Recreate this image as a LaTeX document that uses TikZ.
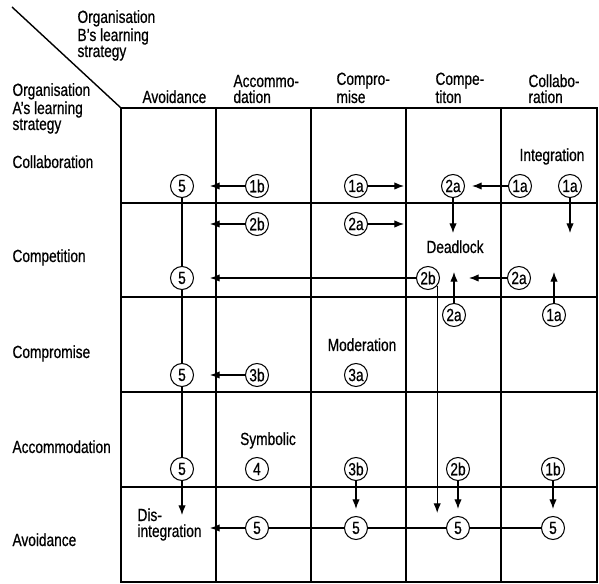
\documentclass[tikz,border=0pt]{standalone}
\usepackage{fontspec}
\setmainfont{Liberation Sans}[FakeStretch=0.78,FakeBold=0.6]
\usetikzlibrary{arrows.meta}

\begin{document}
\begin{tikzpicture}[x=0.02cm,y=-0.02cm,>={Latex[length=5.5pt,width=4.2pt]},semithick,
  font=\fontsize{10}{9.1}\selectfont,
  outcome/.style={circle,draw,minimum size=0.46cm,inner sep=0pt},
  strategy/.style={anchor=base west,inner sep=0pt,align=left},
  remark/.style={anchor=base,inner sep=0pt},
  gap/.style={shorten >=4pt},
  gridline/.style={line width=0.9pt}]
\useasboundingbox (0,0) rectangle (599,584);

% headers
\draw[line width=0.8pt] (12,7) -- (121,108);
\node[strategy] (orgB) at (77,57) {Organisation\\B’s learning\\strategy};
\node[strategy] (orgA) at (12,130) {Organisation\\A’s learning\\strategy};

\node[strategy] (hAvo) at (142,103) {Avoidance};
\node[strategy] (hAcc) at (233,103) {Accommo-\\dation};
\node[strategy] (hCpr) at (336,103) {Compro-\\mise};
\node[strategy] (hCpt) at (435,103) {Compe-\\titon};
\node[strategy] (hCol) at (528,103) {Collabo-\\ration};

\node[strategy] (rCol) at (12,168) {Collaboration};
\node[strategy] (rCpt) at (12,262) {Competition};
\node[strategy] (rCpr) at (12,358) {Compromise};
\node[strategy] (rAcc) at (12,453) {Accommodation};
\node[strategy] (rAvo) at (12,546) {Avoidance};

% the grid
\draw[gridline] (121,108) rectangle (597,582);
\foreach \x in {216,311,406,501} \draw[gridline] (\x,108) -- (\x,582);
\foreach \y in {203,297,392,487} \draw[gridline] (121,\y) -- (597,\y);

% outcomes
\node[outcome] (a5) at (182,186) {5};
\node[outcome] (a1b) at (257,186) {1b};
\node[outcome] (a1a) at (356,186) {1a};
\node[outcome] (a2a) at (453,186) {2a};
\node[outcome] (a1ai) at (520,186) {1a};
\node[outcome] (a1aii) at (570,186) {1a};
\node[remark] (integ) at (552,161) {Integration};

\node[outcome] (b2b) at (257,224) {2b};
\node[outcome] (b2a) at (356,224) {2a};
\node[remark] (dead) at (455,253) {Deadlock};
\node[outcome] (b5) at (182,278) {5};
\node[outcome] (b2bi) at (428,278) {2b};
\node[outcome] (b2ai) at (519,278) {2a};

\node[outcome] (c2a) at (454,315) {2a};
\node[outcome] (c1a) at (554,315) {1a};
\node[remark] (moder) at (362,351) {Moderation};
\node[outcome] (c5) at (182,375) {5};
\node[outcome] (c3b) at (257,375) {3b};
\node[outcome] (c3a) at (356,375) {3a};

\node[remark] (symb) at (268,445) {Symbolic};
\node[outcome] (d5) at (182,469) {5};
\node[outcome] (d4) at (257,469) {4};
\node[outcome] (d3b) at (356,469) {3b};
\node[outcome] (d2b) at (458,469) {2b};
\node[outcome] (d1b) at (553,469) {1b};

\node[strategy] (disint) at (137,537) {Dis-\\integration};
\node[outcome] (e5a) at (257,528) {5};
\node[outcome] (e5b) at (356,528) {5};
\node[outcome] (e5c) at (458,528) {5};
\node[outcome] (e5d) at (553,528) {5};

% arrow ends
\coordinate (a1b-end) at (210,186);
\coordinate (a1a-end) at (404,186);
\coordinate (a2a-end) at (453,233);
\coordinate (a1aii-end) at (570,233);
\coordinate (b2b-end) at (210,224);
\coordinate (b2a-end) at (404,224);
\coordinate (b2bi-end) at (210,278);
\coordinate (b2ai-end) at (469,278);
\coordinate (c2a-end) at (454,272);
\coordinate (c1a-end) at (554,272);
\coordinate (long-end) at (437,513);
\coordinate (c3b-end) at (210,375);
\coordinate (d5-end) at (182,515);
\coordinate (e5a-end) at (210,528);

\path[->] (a1b) edge (a1b-end)
      (a1a) edge (a1a-end)
      (a1ai) edge[gap] (a2a)
      (a2a) edge (a2a-end)
      (a1aii) edge (a1aii-end)
      (b2b) edge (b2b-end)
      (b2a) edge (b2a-end)
      (b2bi) edge (b2bi-end)
      (b2ai) edge (b2ai-end)
      (c2a) edge (c2a-end)
      (c1a) edge (c1a-end)
      (c3b) edge (c3b-end)
      (d3b) edge[gap] (e5b)
      (d2b) edge[gap] (e5c)
      (d1b) edge[gap] (e5d);

\draw (a5) -- (b5) -- (c5) -- (d5);
\draw[->] (d5) -- (d5-end);
\draw[->] (b2bi.-40) -- (b2bi.-40 |- long-end);
\draw[->] (e5d) -- (e5c) -- (e5b) -- (e5a) -- (e5a-end);

\end{tikzpicture}
\end{document}
